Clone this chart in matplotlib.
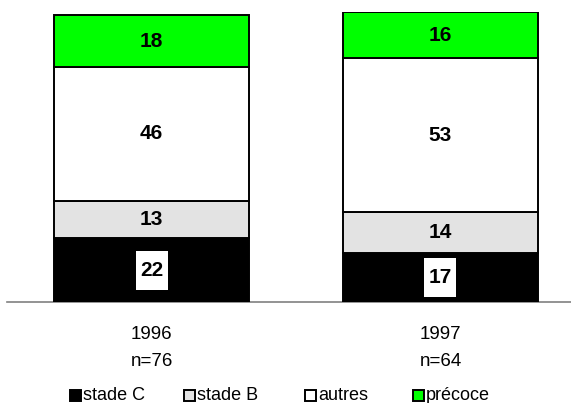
import matplotlib
matplotlib.use("Agg")
import matplotlib.pyplot as plt
from matplotlib.patches import Rectangle
from matplotlib.transforms import ScaledTranslation

plt.rcParams['font.family'] = ['Liberation Sans', 'DejaVu Sans']

# Stacked shares (%) per year, bottom to top
years = ['1996', '1997']
counts = ['n=76', 'n=64']
stade_c = [22, 17]
stade_b = [13, 14]
autres = [46, 53]
precoce = [18, 16]

series_names = ['stade C', 'stade B', 'autres', 'précoce']
series_colors = ['#000000', '#E3E3E3', '#FFFFFF', '#00FF00']
series = [stade_c, stade_b, autres, precoce]

fig = plt.figure(figsize=(5.71, 4.03), dpi=100)
ax = fig.add_axes([0.0123, 0.2506, 0.9877, 0.7196])

x = list(range(len(years)))
bottoms = [0] * len(years)
for name, color, values in zip(series_names, series_colors, series):
    ax.bar(x, values, width=0.675, bottom=bottoms, color=color,
           edgecolor='black', linewidth=1.4, zorder=2)
    for xi, b, v in zip(x, bottoms, values):
        yc = b + v / 2
        if color == '#000000':
            # white box (fixed size in inches) behind the value on the black segment
            box = Rectangle((-0.16, -0.195), 0.32, 0.39, facecolor='white',
                            edgecolor='none', zorder=3,
                            transform=fig.dpi_scale_trans
                            + ScaledTranslation(xi, yc, ax.transData))
            ax.add_patch(box)
        ax.text(xi, yc, str(v), ha='center', va='center',
                fontsize=15, fontweight='bold', color='black', zorder=4)
    bottoms = [b + v for b, v in zip(bottoms, values)]

ax.set_xlim(-0.5, 1.4516)
ax.set_ylim(0, 100)
ax.set_yticks([])
ax.set_xticks(x)
ax.set_xticklabels([f'{y}\n{n}' for y, n in zip(years, counts)],
                   fontsize=13.5, linespacing=1.8)
ax.tick_params(axis='x', length=0, pad=17)
for side in ['left', 'right', 'top']:
    ax.spines[side].set_visible(False)
ax.spines['bottom'].set_color('#808080')
ax.spines['bottom'].set_linewidth(1.2)
ax.spines['bottom'].set_zorder(1)

# Legend laid out along the bottom edge
W, H = 571, 403
legend_x = [70, 184, 305, 413]
for lx, name, color in zip(legend_x, series_names, series_colors):
    fig.patches.append(Rectangle((lx / W, (H - 401) / H), 11 / W, 11 / H,
                                 facecolor=color, edgecolor='black',
                                 linewidth=1.4, transform=fig.transFigure))
    fig.text((lx + 13) / W, (H - 395) / H, name, ha='left', va='center',
             fontsize=13)

fig.savefig('out.png', dpi=100)
